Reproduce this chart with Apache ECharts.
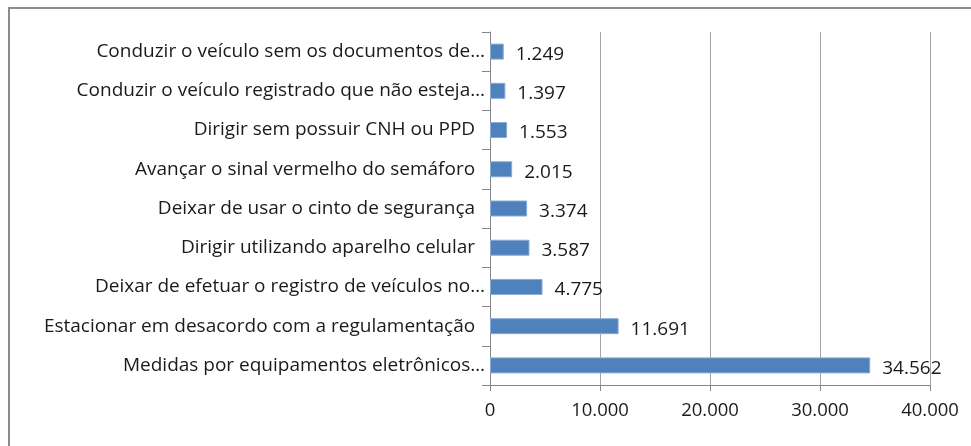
<!DOCTYPE html>
<html>
<head>
<meta charset="utf-8">
<script src="https://cdn.jsdelivr.net/npm/echarts@6/dist/echarts.min.js"></script>
<style>
  html, body { margin: 0; padding: 0; background: #fff; }
  #chart { width: 971px; height: 446px; }
</style>
</head>
<body>
<div id="chart"></div>
<script>
// categories bottom to top, as the category axis draws them
var categories = [
    'Medidas por equipamentos eletrônicos…',
    'Estacionar em desacordo com a regulamentação  ',
    'Deixar de efetuar o registro de veículos no…',
    'Dirigir utilizando aparelho celular  ',
    'Deixar de usar o cinto de segurança  ',
    'Avançar o sinal vermelho do semáforo  ',
    'Dirigir sem possuir CNH ou PPD  ',
    'Conduzir o veículo registrado que não esteja…',
    'Conduzir o veículo sem os documentos de…'
];
var values = [34562, 11691, 4775, 3587, 3374, 2015, 1553, 1397, 1249];

function ptBR(v) {
    return String(v).replace(/\B(?=(\d{3})+(?!\d))/g, '.');
}

var chart = echarts.init(document.getElementById('chart'));
var font = '"Open Sans", "Noto Sans", sans-serif';

var option = {
    animation: false,
    graphic: [{
        type: 'rect',
        shape: { x: 9, y: 8, width: 980, height: 460 },
        style: { fill: 'none', stroke: '#8c8c8c', lineWidth: 2 }
    }],
    grid: { left: 490, right: 41, top: 32, bottom: 61 },
    xAxis: {
        type: 'value',
        min: 0,
        max: 40000,
        interval: 10000,
        axisLine: { show: true, lineStyle: { color: '#868686' } },
        axisTick: { show: true, length: 6, lineStyle: { color: '#868686' } },
        splitLine: { show: true, lineStyle: { color: '#a6a6a6', width: 1 } },
        axisLabel: {
            color: '#1a1a1a',
            fontFamily: font,
            fontSize: 18.5,
            margin: 16,
            formatter: ptBR
        }
    },
    yAxis: {
        type: 'category',
        data: categories,
        axisLine: { show: true, lineStyle: { color: '#868686' } },
        axisTick: { show: true, length: 8, lineStyle: { color: '#868686' } },
        axisLabel: {
            color: '#1a1a1a',
            fontFamily: font,
            fontSize: 19,
            margin: 5,
            padding: [8, 0, 0, 0]
        }
    },
    series: [{
        type: 'bar',
        data: values,
        barWidth: 16,
        itemStyle: { color: '#4f81bd', borderColor: '#8aaad6', borderWidth: 1 },
        label: {
            show: true,
            position: 'right',
            distance: 12,
            offset: [0, 3],
            color: '#1a1a1a',
            fontFamily: font,
            fontSize: 19,
            formatter: function (p) { return ptBR(p.value); }
        }
    }]
};

chart.setOption(option);
</script>
</body>
</html>
